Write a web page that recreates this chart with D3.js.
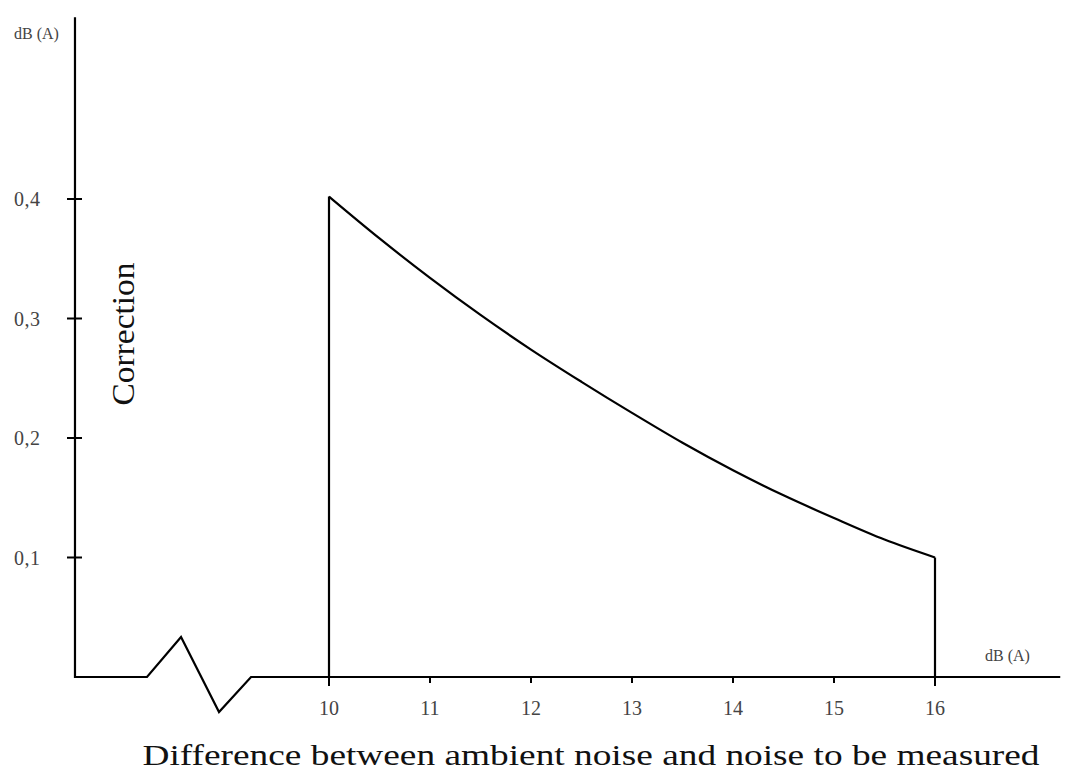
<!DOCTYPE html>
<html><head><meta charset="utf-8">
<script src="https://cdn.jsdelivr.net/npm/d3@7"></script>
<style>html,body{margin:0;padding:0;background:#fff;}</style>
</head><body>
<svg id="c" width="1068" height="773"></svg>
<script>
// Data
const curveX = [10, 10.5, 11, 11.5, 12, 12.5, 13, 13.5, 14, 14.5, 15, 15.5, 16];
const curveY = [0.402, 0.367, 0.334, 0.303, 0.274, 0.247, 0.221, 0.196, 0.173, 0.152, 0.133, 0.115, 0.100];
const xTicks = [10, 11, 12, 13, 14, 15, 16];
const xTickLabels = ["10", "11", "12", "13", "14", "15", "16"];
const yTicks = [0.1, 0.2, 0.3, 0.4];
const yTickLabels = ["0,1", "0,2", "0,3", "0,4"];
// axis with break (zigzag) in data units
const baseX = [7.485, 8.198, 8.535, 8.911, 9.228, 17.24];
const baseY = [0, 0, 0.0335, -0.0293, 0, 0];
const yAxisTop = 0.552;
const unitLabel = "dB (A)";
const yTitle = "Correction";
const xTitle = "Difference between ambient noise and noise to be measured";

const svg = d3.select("#c");
const x = d3.scaleLinear().domain([10, 16]).range([329, 935]);
const y = d3.scaleLinear().domain([0, 0.4]).range([677, 199]);
const serif = "'Liberation Serif','Times New Roman',serif";
const txt = "#444";

// y axis line
svg.append("line").attr("x1", x(baseX[0])).attr("x2", x(baseX[0]))
  .attr("y1", y(yAxisTop)).attr("y2", y(0) + 1)
  .attr("stroke", "#000").attr("stroke-width", 2.2);

// y ticks
svg.selectAll(".yt").data(yTicks).join("line")
  .attr("x1", x(baseX[0]) - 8).attr("x2", x(baseX[0]) + 7)
  .attr("y1", d => y(d)).attr("y2", d => y(d))
  .attr("stroke", "#000").attr("stroke-width", 2);
svg.selectAll(".yl").data(yTicks).join("text")
  .attr("x", 14).attr("y", d => y(d) + 7)
  .attr("font-family", serif).attr("font-size", 20).attr("letter-spacing", 0.5)
  .attr("fill", txt).text((d, i) => yTickLabels[i]);

// baseline with break
const bl = d3.line().x((d, i) => x(d)).y((d, i) => y(baseY[i]));
svg.append("path").attr("d", bl(baseX)).attr("fill", "none")
  .attr("stroke", "#000").attr("stroke-width", 2.2).attr("stroke-linejoin", "miter");

// x ticks
svg.selectAll(".xt").data(xTicks).join("line")
  .attr("x1", d => x(d)).attr("x2", d => x(d))
  .attr("y1", y(0)).attr("y2", d => (d === 10 || d === 16) ? y(0) + 9 : y(0) + 6)
  .attr("stroke", "#000").attr("stroke-width", 2);
svg.selectAll(".xl").data(xTicks).join("text")
  .attr("x", d => x(d)).attr("y", 715)
  .attr("text-anchor", "middle").attr("font-family", serif).attr("font-size", 20)
  .attr("fill", txt).text((d, i) => xTickLabels[i]);

// vertical edges
svg.append("line").attr("x1", x(10)).attr("x2", x(10))
  .attr("y1", y(0)).attr("y2", y(curveY[0]))
  .attr("stroke", "#000").attr("stroke-width", 2.2);
svg.append("line").attr("x1", x(16)).attr("x2", x(16))
  .attr("y1", y(0)).attr("y2", y(curveY[curveY.length - 1]))
  .attr("stroke", "#000").attr("stroke-width", 2.2);

// curve
const cl = d3.line().x((d, i) => x(d)).y((d, i) => y(curveY[i])).curve(d3.curveMonotoneX);
svg.append("path").attr("d", cl(curveX)).attr("fill", "none")
  .attr("stroke", "#000").attr("stroke-width", 2.2);

// unit labels
svg.append("text").attr("x", 14).attr("y", 39)
  .attr("font-family", serif).attr("font-size", 16).attr("fill", txt).text(unitLabel);
svg.append("text").attr("x", 985).attr("y", 661)
  .attr("font-family", serif).attr("font-size", 16).attr("fill", txt).text(unitLabel);

// titles
svg.append("text").attr("transform", "translate(134,334) rotate(-90)")
  .attr("text-anchor", "middle").attr("font-family", serif).attr("font-size", 31)
  .attr("textLength", 143).attr("lengthAdjust", "spacingAndGlyphs")
  .attr("fill", "#111").text(yTitle);
svg.append("text").attr("x", 591).attr("y", 765)
  .attr("text-anchor", "middle").attr("font-family", serif).attr("font-size", 30)
  .attr("textLength", 897).attr("lengthAdjust", "spacingAndGlyphs")
  .attr("fill", "#111").text(xTitle);
</script>
</body></html>
